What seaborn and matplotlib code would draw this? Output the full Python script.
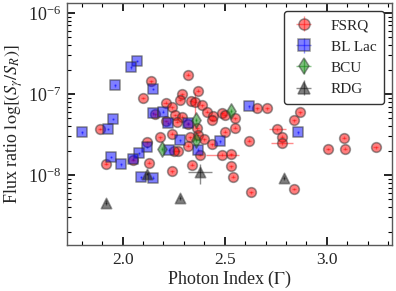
import matplotlib
matplotlib.use("Agg")
import matplotlib.pyplot as plt
from matplotlib.lines import Line2D
from matplotlib.legend_handler import HandlerTuple
from matplotlib.ticker import MultipleLocator, LogLocator, NullFormatter
import numpy as np
import pandas as pd
import seaborn as sns

# Photon index and flux ratio
fsrq_x = [2.320, 2.141, 2.100, 2.210, 2.369, 2.289, 2.279, 2.334, 2.353, 2.389,
          2.244, 2.415, 2.444, 2.488, 2.501, 2.550, 2.439, 2.257, 2.293, 2.213,
          2.160, 2.268, 2.320, 2.366, 2.550, 2.501, 2.241, 2.371, 2.329, 2.399,
          2.181, 2.322, 2.439, 2.618, 2.273, 2.252, 2.378, 2.488, 2.529, 2.340,
          2.530, 2.241, 2.539, 2.630, 2.659, 2.707, 2.867, 2.839, 2.758, 2.780,
          2.780, 3.086, 3.008, 3.089, 2.838, 3.239, 1.890, 1.920, 2.051, 2.130,
          2.120]
fsrq_y = [1.72e-7, 1.44e-7, 8.93e-8, 7.81e-8, 1.10e-7, 9.95e-8, 8.43e-8, 8.27e-8, 8.03e-8, 7.27e-8,
          6.85e-8, 6.04e-8, 5.35e-8, 5.78e-8, 5.51e-8, 5.01e-8, 4.78e-8, 5.51e-8, 5.25e-8, 4.64e-8,
          5.61e-8, 4.55e-8, 4.26e-8, 3.78e-8, 3.84e-8, 3.42e-8, 3.25e-8, 3.12e-8, 2.92e-8, 2.76e-8,
          2.92e-8, 2.30e-8, 2.38e-8, 2.65e-8, 2.00e-8, 1.99e-8, 1.77e-8, 1.79e-8, 1.81e-8, 1.34e-8,
          1.28e-8, 1.11e-8, 9.53e-9, 6.14e-9, 6.65e-8, 6.65e-8, 5.96e-8, 4.71e-8, 3.67e-8, 2.97e-8,
          2.46e-8, 2.88e-8, 2.09e-8, 2.11e-8, 6.71e-9, 2.20e-8, 3.70e-8, 1.38e-8, 1.53e-8, 1.42e-8,
          2.52e-8]
fsrq_xerr = [0.01, 0.01, 0.01, 0.01, 0.01, 0.01, 0.01, 0.01, 0.01, 0.01,
             0.01, 0.01, 0.01, 0.01, 0.01, 0.01, 0.01, 0.01, 0.01, 0.01,
             0.01, 0.01, 0.01, 0.01, 0.01, 0.01, 0.01, 0.01, 0.01, 0.01,
             0.01, 0.01, 0.01, 0.01, 0.01, 0.01, 0.01, 0.08, 0.01, 0.01,
             0.01, 0.01, 0.01, 0.01, 0.01, 0.01, 0.01, 0.01, 0.04, 0.01,
             0.055, 0.01, 0.01, 0.01, 0.01, 0.01, 0.01, 0.01, 0.01, 0.01,
             0.01]
fsrq_yerr_big = {8: 2.5e-8}

bll_x = [2.070, 2.042, 1.961, 2.148, 2.151, 2.200, 1.951, 1.802, 1.930, 2.120,
         2.081, 1.941, 1.990, 2.051, 2.092, 2.151, 2.220, 2.320, 2.280, 2.478,
         2.371, 2.229, 2.620, 2.860]
bll_y = [2.55e-7, 2.14e-7, 1.28e-7, 1.15e-7, 5.78e-8, 6.04e-8, 4.91e-8, 3.35e-8, 3.70e-8, 2.22e-8,
         1.85e-8, 1.67e-8, 1.36e-8, 1.58e-8, 9.4e-9, 9.31e-9, 4.35e-8, 4.35e-8, 2.68e-8, 2.61e-8,
         2.05e-8, 2.06e-8, 7.05e-8, 3.36e-8]

bcu_x = [2.529, 2.361, 2.360, 2.191]
bcu_y = [6.22e-8, 4.78e-8, 2.68e-8, 2.11e-8]

rdg_x = [1.920, 2.120, 2.280, 2.380, 2.789]
rdg_y = [4.57e-9, 1.04e-8, 5.27e-9, 1.08e-8, 9.1e-9]
rdg_xerr = [0.005, 0.005, 0.005, 0.06, 0.005]
rdg_yerr = [3e-10, 5e-10, 3e-10, 3e-9, 5e-10]

classes = ["FSRQ", "BL Lac", "BCU", "RDG"]
markers = {"FSRQ": "o", "BL Lac": "s", "BCU": "d", "RDG": "^"}
colors = {"FSRQ": "red", "BL Lac": "blue", "BCU": "green", "RDG": "black"}
ecolors = {"FSRQ": (1, 0, 0, 0.45), "BL Lac": (0, 0, 1, 0.45),
           "BCU": (0, 0.5, 0, 0.45), "RDG": (0, 0, 0, 0.45)}
sizes = {"FSRQ": 48, "BL Lac": 55, "BCU": 60, "RDG": 55}

df = pd.concat([
    pd.DataFrame({"gamma": fsrq_x, "ratio": fsrq_y, "cls": "FSRQ"}),
    pd.DataFrame({"gamma": bll_x, "ratio": bll_y, "cls": "BL Lac"}),
    pd.DataFrame({"gamma": bcu_x, "ratio": bcu_y, "cls": "BCU"}),
    pd.DataFrame({"gamma": rdg_x, "ratio": rdg_y, "cls": "RDG"}),
], ignore_index=True)

sns.set_style("ticks")
plt.rcParams["font.family"] = ["Liberation Serif", "DejaVu Serif"]
plt.rcParams["mathtext.fontset"] = "stix"
plt.rcParams["font.size"] = 12

fig = plt.figure(figsize=(3.96, 2.91), dpi=100)
ax = fig.add_axes([0.168, 0.158, 0.822, 0.831])

# error bars
fsrq_yerr = [fsrq_yerr_big.get(i, 0.04 * v) for i, v in enumerate(fsrq_y)]
eb = {}
eb["FSRQ"] = ax.errorbar(fsrq_x, fsrq_y, xerr=fsrq_xerr, yerr=fsrq_yerr, fmt="none",
                         ecolor=ecolors["FSRQ"], elinewidth=1, zorder=1)
eb["BL Lac"] = ax.errorbar(bll_x, bll_y, xerr=0.005, yerr=[0.04 * v for v in bll_y], fmt="none",
                           ecolor=ecolors["BL Lac"], elinewidth=1, zorder=1)
eb["BCU"] = ax.errorbar(bcu_x, bcu_y, xerr=0.005, yerr=[0.06 * v for v in bcu_y], fmt="none",
                        ecolor=ecolors["BCU"], elinewidth=1, zorder=1)
eb["RDG"] = ax.errorbar(rdg_x, rdg_y, xerr=rdg_xerr, yerr=rdg_yerr, fmt="none",
                        ecolor=ecolors["RDG"], elinewidth=1, zorder=1)

for c in classes:
    sub = df[df["cls"] == c]
    sns.scatterplot(data=sub, x="gamma", y="ratio", ax=ax, marker=markers[c],
                    color=colors[c], alpha=0.5, s=sizes[c], edgecolor="0.2",
                    linewidth=1.2, legend=False, zorder=2)

ax.set_yscale("log")
ax.set_xlim(1.725, 3.32)
ax.set_ylim(10 ** -8.864, 10 ** -5.88)
ax.xaxis.set_major_locator(MultipleLocator(0.5))
ax.xaxis.set_minor_locator(MultipleLocator(0.1))
ax.yaxis.set_major_locator(LogLocator(base=10, numticks=10))
ax.yaxis.set_minor_locator(LogLocator(base=10, subs=np.arange(2, 10), numticks=10))
ax.yaxis.set_minor_formatter(NullFormatter())
ax.tick_params(which="both", direction="in", top=True, right=True, color="black")
ax.tick_params(which="major", length=6, width=1.2)
ax.tick_params(axis="x", which="major", labelsize=12.5, pad=5)
ax.tick_params(axis="y", which="major", labelsize=13, pad=4)
ax.tick_params(which="minor", length=3, width=0.8)
for sp in ax.spines.values():
    sp.set_linewidth(1.0)
    sp.set_color("0.35")

ax.set_xlabel(r"Photon Index ($\Gamma$)", fontsize=13, labelpad=1)
ax.set_ylabel(r"Flux ratio $\log[(S_\gamma/S_R)]$", fontsize=13, labelpad=2)

handles = []
for c in classes:
    mk = Line2D([], [], marker=markers[c], ls="none", markersize=8,
                markerfacecolor=colors[c], alpha=0.5, markeredgecolor="0.2", markeredgewidth=1.1)
    handles.append((eb[c], mk))
ax.legend(handles, classes, loc="upper right", handler_map={tuple: HandlerTuple(ndivide=1)},
          fontsize=11, frameon=True, edgecolor="0.2", fancybox=True, framealpha=1,
          handlelength=1.6, handletextpad=1.0, borderpad=0.5, labelspacing=0.5,
          borderaxespad=0.5)

fig.savefig("out.png", dpi=100)
